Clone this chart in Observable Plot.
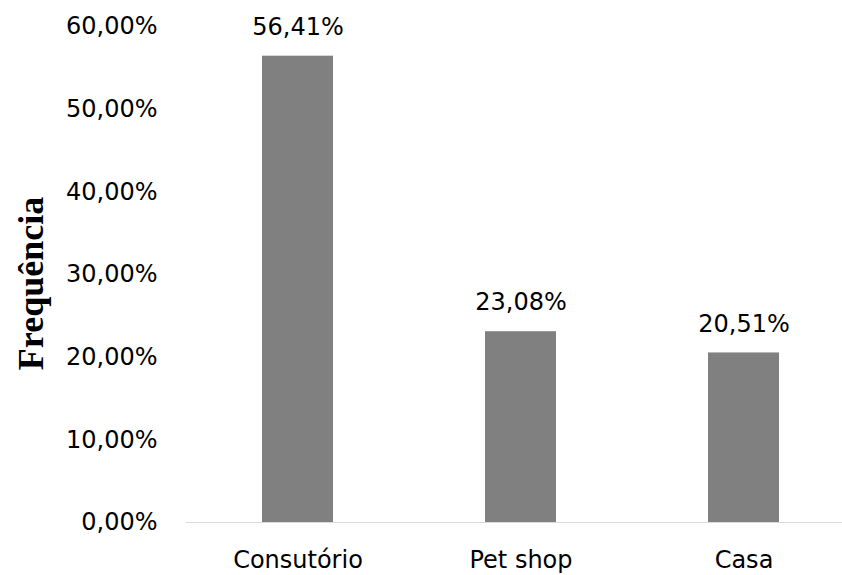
<!DOCTYPE html>
<html><head><meta charset="utf-8">
<script src="https://cdn.jsdelivr.net/npm/d3@7"></script>
<script src="https://cdn.jsdelivr.net/npm/@observablehq/plot@0.6"></script>
<style>body{margin:0;background:#fff}</style>
</head><body><div id="chart"></div>
<script>
const categories = ["Consutório", "Pet shop", "Casa"];
const values = [56.41, 23.08, 20.51];
const yTicks = [0, 10, 20, 30, 40, 50, 60];
const yLabel = "Frequência";

const data = categories.map((c, i) => ({category: c, value: values[i]}));
const fmt = v => v.toFixed(2).replace(".", ",") + "%";

const chart = Plot.plot({
  width: 842, height: 575,
  marginLeft: 186, marginRight: 0, marginTop: 26, marginBottom: 53,
  style: {fontFamily: "DejaVu Sans", background: "#fff", color: "#000"},
  x: {domain: categories, range: [186, 855], paddingInner: 0.682, paddingOuter: 0.341, align: 0.5},
  y: {domain: [0, 60]},
  marks: [
    Plot.barY(data, {x: "category", y: "value", fill: "#808080"}),
    Plot.ruleY([0], {stroke: "#d9d9d9", strokeWidth: 1}),
    Plot.axisY(yTicks, {tickSize: 0, tickPadding: 29, tickFormat: fmt, fontSize: 24, label: null}),
    Plot.axisX({tickSize: 0, tickPadding: 28, fontSize: 24, label: null}),
    Plot.text(data, {x: "category", y: "value", text: d => fmt(d.value), dy: -29, fontSize: 24}),
    Plot.text([yLabel], {frameAnchor: "left", textAnchor: "middle", rotate: -90, dx: -144, dy: 9, lineAnchor: "bottom",
      fontFamily: "Liberation Serif", fontWeight: "bold", fontSize: 36})
  ]
});
document.getElementById("chart").append(chart);
</script>
</body></html>
